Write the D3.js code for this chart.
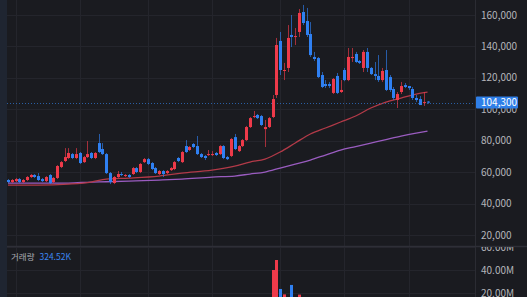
<!DOCTYPE html>
<html><head><meta charset="utf-8">
<script src="https://cdn.jsdelivr.net/npm/d3@7"></script>
<style>html,body{margin:0;padding:0;background:#1a1b20;overflow:hidden}</style>
</head><body>
<svg id="c" width="527" height="297"></svg>
<script>
// ---- data ----
const opens  = [55000,53700,54300,55600,53700,55000,56900,58200,57500,55600,54300,58200,53700,56300,63300,67100,69000,71500,69000,72200,66400,69600,72200,69000,78500,74700,71500,59400,53100,56900,58800,57500,58200,58800,62600,60100,66400,68300,65800,62600,58800,60700,59400,61300,62000,69000,66400,76600,74100,77900,76600,71500,70300,70900,70900,72200,71500,76600,69600,70300,82300,73400,76600,80400,88700,95100,96400,95700,87400,88700,95100,109100,143500,124400,126300,147300,146000,149200,161900,156200,147900,133300,132600,121800,116100,116100,110400,121200,111000,125000,118600,132600,135200,130700,126300,136500,126300,122400,121200,118600,125000,120500,112900,105900,111000,115400,114800,112900,107200,106500,104000,104900];
const highs  = [55600,55600,56300,56300,55600,57500,58800,58800,59400,56300,57500,58800,56900,64500,67100,75300,75300,72200,75300,72800,70300,79800,72800,72800,84300,78500,72200,60100,57500,60700,60100,58800,58800,63300,63300,65800,69000,69000,66400,63300,61300,61300,61300,63300,67100,69600,73400,80400,76600,78500,83000,72200,70900,74100,73400,72800,77200,77200,70300,81700,84300,77200,81100,89400,95100,98900,97000,96400,93200,95100,109100,145400,149200,129500,153600,160000,151700,163800,166400,164500,155500,136500,133300,123700,118600,117400,119900,123100,118600,126300,139000,139000,136500,131400,137700,139000,126900,130100,134500,126300,137700,121800,114200,111000,117400,116700,114800,114200,109100,108400,111000,105300];
const lows   = [53100,53100,53700,53100,53100,54300,56300,56300,54300,53700,53700,52400,53100,55600,62600,66400,68300,68300,68300,65200,65800,69000,68300,68300,72200,70900,58800,52400,52400,56300,57500,56900,56300,58200,59400,59400,65800,64500,61300,58800,58200,56900,58800,60700,61300,66400,65800,72200,73400,75300,70900,69000,67700,70300,70300,70300,70900,68300,67700,69600,74100,72800,76000,79800,88100,94400,93800,89400,76000,88100,94400,107200,121800,118600,123700,139600,140900,146000,153600,146000,133300,130700,119900,113500,113500,113500,109700,109700,110400,117900,117900,130100,129500,128800,123700,123700,121800,118600,117400,117400,111600,111000,105900,100800,109700,113500,112300,105900,104600,102700,102100,103500];
const closes = [53700,55000,55600,53700,55000,56900,58200,56900,55000,54300,56900,53100,56300,63900,66400,69600,72200,69000,71500,65800,69600,71500,69000,72200,72800,71500,59400,53700,56900,58800,58200,58200,56900,62600,60100,65200,68300,65200,62000,59400,60700,58800,60700,62600,66400,67100,72800,72800,76000,76000,71500,69600,69000,71500,71500,70900,76600,69000,68300,81100,74700,76600,80400,88700,94400,95700,94400,90000,88700,94400,106500,140900,125000,125000,145400,146000,146600,161300,154900,147300,134500,132000,120500,114200,114800,114800,119300,110400,112300,118600,133300,133300,130100,129500,136500,126300,122400,121200,118600,124400,112300,112300,107200,109700,114800,114200,113500,107200,105900,102700,104600,104300];
const volumes = [1.2e6,0.9e6,1.1e6,0.8e6,0.7e6,1.5e6,1.8e6,1.2e6,1.4e6,0.9e6,1.3e6,2.1e6,1.6e6,6.2e6,4.1e6,5.3e6,4.4e6,2.6e6,3.2e6,3.9e6,2.4e6,4.6e6,2.2e6,2.5e6,5.8e6,3.1e6,6.4e6,5.2e6,2.7e6,1.9e6,1.1e6,0.9e6,1.0e6,2.8e6,1.7e6,3.3e6,3.0e6,2.2e6,2.4e6,2.0e6,1.3e6,1.2e6,1.1e6,1.4e6,2.6e6,2.1e6,4.8e6,4.2e6,2.3e6,2.0e6,3.6e6,2.1e6,1.5e6,1.2e6,1.0e6,1.1e6,3.4e6,3.8e6,1.6e6,7.9e6,6.1e6,2.9e6,4.4e6,8.8e6,7.2e6,5.1e6,3.9e6,4.7e6,6.3e6,7.1e6,40e6,48.7e6,23.5e6,18.8e6,15.2e6,27e6,11.8e6,18.6e6,14.1e6,10.4e6,12.2e6,5.6e6,8.3e6,7.4e6,4.2e6,3.6e6,6.8e6,7.6e6,4.1e6,5.9e6,9.8e6,4.3e6,3.8e6,2.6e6,6.6e6,6.9e6,3.7e6,2.9e6,3.1e6,3.4e6,5.7e6,3.2e6,3.6e6,3.0e6,3.9e6,1.9e6,1.4e6,2.8e6,1.6e6,2.2e6,1.8e6,0.32452e6];
const maIdx = [0,8,16,22,26,32,40,46,54,60,64,68,72,76,80,84,88,92,96,100,104,108,111];
const maFast = [51800,51800,52430,53710,55620,56250,57520,59430,61340,63890,66440,68350,72800,78530,84260,88080,91900,95710,100800,104630,107170,109720,110990];
const maSlow = [53070,53070,53070,53710,53900,54340,54980,55620,56890,57520,58800,60070,62620,65160,67710,70890,74070,76300,78530,80760,82980,84890,86170];
const priceTicks = [20000,40000,60000,80000,100000,120000,140000,160000];
const volTicks = [20e6,40e6,60e6];
const gridIdx = [2,19,37,54,72,89,106];
const lastPrice = 104300;
const volTitle = "거래량";
const volValue = "324.52K";

// ---- layout ----
const W = 527, H = 297;
const plotL = 7, plotR = 475, sepY = 246;
const UP = "#ee3a4a", DOWN = "#2f80f2";
const FONT = "'Noto Sans CJK KR','Noto Sans',sans-serif";

const svg = d3.select("#c");
const x = d3.scaleLinear().domain([0, closes.length - 1]).range([8, 427.5]);
const y = d3.scaleLinear().domain([20000, 160000]).range([235, 15]);
const yv = d3.scaleLinear().domain([0, 60e6]).range([316, 247]);

svg.append("rect").attr("width", W).attr("height", H).attr("fill", "#1a1b20");
svg.append("rect").attr("x", 0).attr("y", 0).attr("width", plotL).attr("height", H).attr("fill", "#1f2531");

const defs = svg.append("defs");
defs.append("clipPath").attr("id", "pp").append("rect").attr("x", plotL).attr("y", 0).attr("width", plotR - plotL).attr("height", sepY);
defs.append("clipPath").attr("id", "vp").append("rect").attr("x", plotL).attr("y", sepY + 1).attr("width", W - plotL).attr("height", H - sepY);

const grid = svg.append("g").attr("stroke", "#24252c").attr("stroke-width", 1);
priceTicks.forEach(t => grid.append("line").attr("x1", plotL).attr("x2", plotR).attr("y1", Math.round(y(t)) + 0.5).attr("y2", Math.round(y(t)) + 0.5));
volTicks.forEach(t => grid.append("line").attr("x1", plotL).attr("x2", plotR).attr("y1", Math.round(yv(t)) + 0.5).attr("y2", Math.round(yv(t)) + 0.5));
gridIdx.forEach(i => grid.append("line").attr("x1", Math.round(x(i)) + 0.5).attr("x2", Math.round(x(i)) + 0.5).attr("y1", 0).attr("y2", H));

// moving averages
const pane = svg.append("g").attr("clip-path", "url(#pp)");
const maLine = vals => d3.line().x((d, k) => x(maIdx[k])).y(d => y(d)).curve(d3.curveMonotoneX)(vals);
pane.append("path").attr("d", maLine(maSlow)).attr("fill", "none").attr("stroke", "#9a5cc0").attr("stroke-width", 1.3);
pane.append("path").attr("d", maLine(maFast)).attr("fill", "none").attr("stroke", "#b23a48").attr("stroke-width", 1.3);

// current price line
pane.append("line").attr("x1", plotL).attr("x2", plotR).attr("y1", Math.round(y(lastPrice)) + 0.5).attr("y2", Math.round(y(lastPrice)) + 0.5)
  .attr("stroke", "#2f6fc4").attr("stroke-width", 1).attr("stroke-dasharray", "1,2").attr("opacity", 0.8);

// candles
const idx = d3.range(closes.length);
const cg = pane.append("g");
idx.forEach(i => {
  const col = closes[i] >= opens[i] ? UP : DOWN;
  const cx = Math.round(x(i));
  cg.append("line").attr("x1", cx + 0.5).attr("x2", cx + 0.5).attr("y1", y(highs[i])).attr("y2", y(lows[i]))
    .attr("stroke", col).attr("stroke-width", 1).attr("opacity", 0.65);
  const top = y(Math.max(opens[i], closes[i])), bot = y(Math.min(opens[i], closes[i]));
  cg.append("rect").attr("x", cx - 1).attr("width", 3).attr("y", top).attr("height", Math.max(1, bot - top)).attr("fill", col);
});

// volume bars
const vg = svg.append("g").attr("clip-path", "url(#vp)");
idx.forEach(i => {
  const col = closes[i] >= opens[i] ? UP : DOWN;
  const cx = Math.round(x(i));
  vg.append("rect").attr("x", cx - 1).attr("width", 3).attr("y", yv(volumes[i])).attr("height", yv(0) - yv(volumes[i])).attr("fill", col);
});

// separators
svg.append("line").attr("x1", plotR + 0.5).attr("x2", plotR + 0.5).attr("y1", 0).attr("y2", H).attr("stroke", "#2b2c33");
svg.append("line").attr("x1", plotL).attr("x2", W).attr("y1", sepY + 0.5).attr("y2", sepY + 0.5).attr("stroke", "#2e2f37").attr("stroke-width", 1.5);

// price axis labels
const ax = svg.append("g").attr("font-family", FONT).attr("font-size", 10).attr("fill", "#b4b5ba");
priceTicks.forEach(t => ax.append("text").attr("x", 481).attr("y", y(t)).attr("dy", "0.35em").text(d3.format(",")(t)));

// volume axis labels (clipped to pane)
const vax = svg.append("g").attr("clip-path", "url(#vp)").attr("font-family", FONT).attr("font-size", 10).attr("fill", "#b4b5ba");
volTicks.forEach(t => vax.append("text").attr("x", 481).attr("y", yv(t)).attr("dy", "0.35em").text(d3.format(".2f")(t / 1e6) + "M"));

// last price tag
const ly = y(lastPrice);
svg.append("rect").attr("x", 476).attr("y", ly - 6).attr("width", 42).attr("height", 12).attr("rx", 1).attr("fill", "#2f7fe8");
svg.append("text").attr("x", 481).attr("y", ly).attr("dy", "0.36em").attr("font-family", FONT).attr("font-size", 10).attr("fill", "#ffffff").text(d3.format(",")(lastPrice));

// volume legend
const lg = svg.append("text").attr("x", 11).attr("y", 260).attr("font-family", FONT).attr("font-size", 8.5);
lg.append("tspan").attr("fill", "#a9aab0").text(volTitle);
lg.append("tspan").attr("dx", 5).attr("fill", "#3a86f0").text(volValue);
</script>
</body></html>
